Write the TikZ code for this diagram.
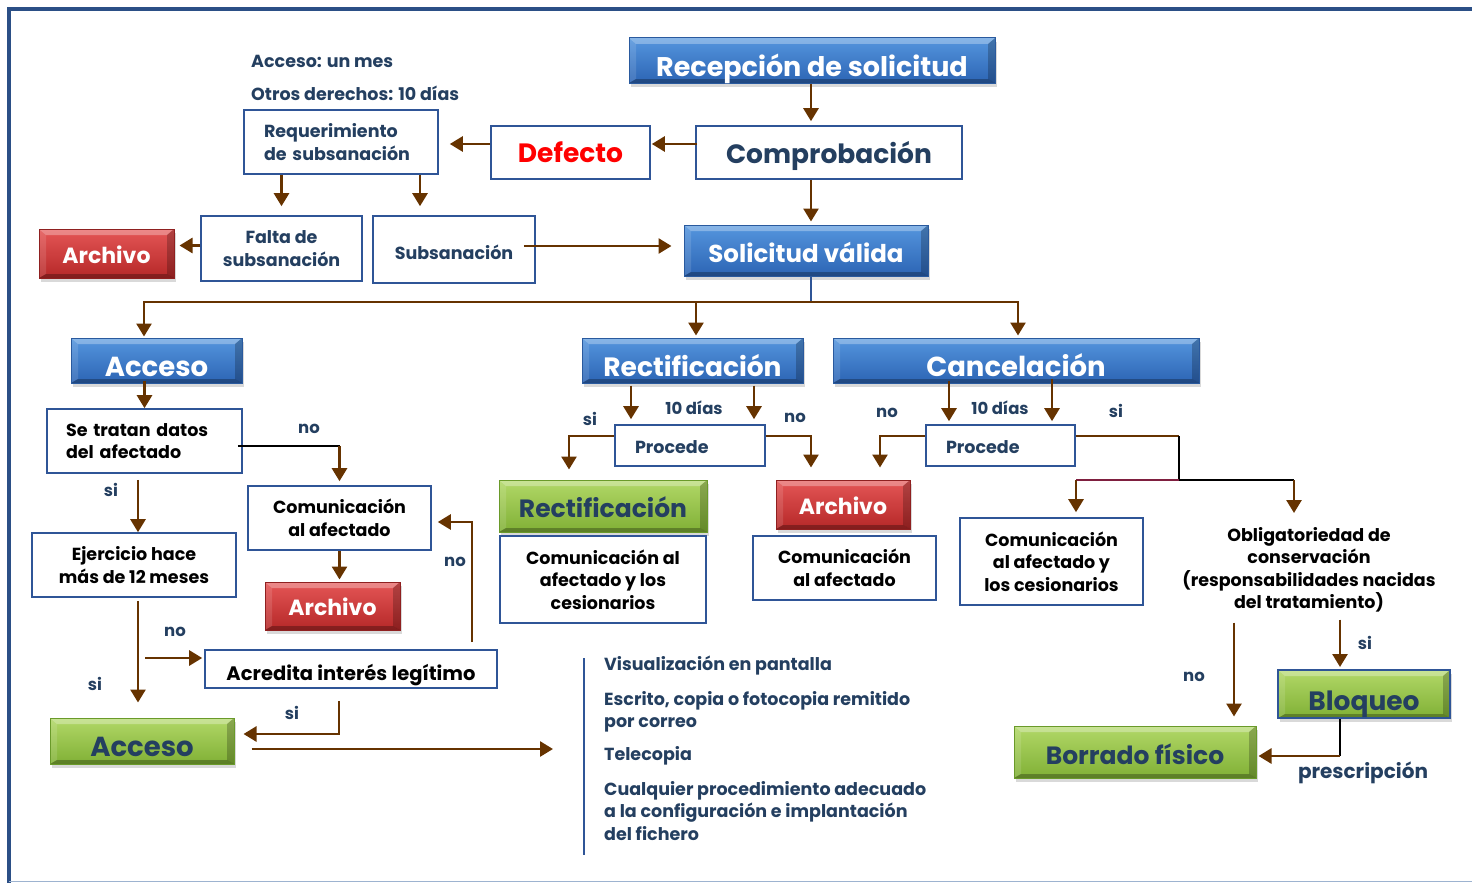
\documentclass[tikz,border=0pt]{standalone}
\usepackage{fontspec}
\setmainfont{Poppins}
\usetikzlibrary{arrows.meta,shadows,positioning,calc}
\definecolor{navyT}{HTML}{243F60}
\definecolor{navyB}{HTML}{2F5597}
\definecolor{brownA}{HTML}{663300}
\definecolor{maroonA}{HTML}{7F1F3F}
\definecolor{blueT}{HTML}{5596DE}
\definecolor{blueB}{HTML}{2C64B4}
\definecolor{blueD}{HTML}{2A5A9E}
\definecolor{greenT}{HTML}{B2D868}
\definecolor{greenB}{HTML}{80B035}
\definecolor{greenD}{HTML}{6A9A2A}
\definecolor{redT}{HTML}{E55656}
\definecolor{redB}{HTML}{B52828}
\definecolor{redD}{HTML}{8F2020}
\definecolor{frameC}{HTML}{2B4F86}
\definecolor{frameL}{HTML}{9DB3D0}
\newcommand\szT{\fontsize{26.5}{28}\selectfont}
\newcommand\szR{\fontsize{22}{24}\selectfont}
\newcommand\szS{\fontsize{17.5}{22.5}\selectfont}
\newcommand\szL{\fontsize{16.5}{18}\selectfont}
\newcommand\szSize[1]{\fontsize{#1}{#1}\selectfont}
\tikzset{
  tbase/.style={text height=#1, text depth=0pt},
  wbox/.style={draw=navyB, line width=1.6pt, fill=white, inner sep=0pt, align=center, font=\szS\bfseries},
  bevel/.style={path picture={
    \fill[white, opacity=0.30] (path picture bounding box.north west) -- (path picture bounding box.north east)
       -- ([xshift=-7pt,yshift=-6pt]path picture bounding box.north east) -- ([xshift=7pt,yshift=-6pt]path picture bounding box.north west) -- cycle;
    \fill[white, opacity=0.12] (path picture bounding box.north west) -- ([xshift=7pt,yshift=-6pt]path picture bounding box.north west)
       -- ([xshift=7pt,yshift=4pt]path picture bounding box.south west) -- (path picture bounding box.south west) -- cycle;
    \fill[black, opacity=0.22] (path picture bounding box.north east) -- ([xshift=-7pt,yshift=-6pt]path picture bounding box.north east)
       -- ([xshift=-7pt,yshift=4pt]path picture bounding box.south east) -- (path picture bounding box.south east) -- cycle;
    \fill[black, opacity=0.28] (path picture bounding box.south west) -- (path picture bounding box.south east)
       -- ([xshift=-7pt,yshift=4pt]path picture bounding box.south east) -- ([xshift=7pt,yshift=4pt]path picture bounding box.south west) -- cycle;
  }},
  shadedbox/.style={inner sep=0pt, align=center, line width=1pt, bevel,
    drop shadow={shadow xshift=2pt, shadow yshift=-4pt, opacity=0.3}},
  bluebox/.style={shadedbox, top color=blueT, bottom color=blueB, draw=blueD, text=white, font=\szT\bfseries},
  greenbox/.style={shadedbox, top color=greenT, bottom color=greenB, draw=greenD, text=navyT, font=\szSize{25}\bfseries},
  redbox/.style={shadedbox, top color=redT, bottom color=redB, draw=redD, text=white, font=\szR\bfseries},
  arr/.style={draw=brownA, line width=2.7pt, -{Triangle[length=13pt,width=15pt]}},
  bline/.style={draw=brownA, line width=2.7pt},
  kline/.style={draw=black, line width=2pt},
  lbl/.style={text=navyT, font=\szL\bfseries, inner sep=0pt},
  plain/.style={font=\szS\bfseries, inner sep=0pt, align=center}
}
\begin{document}
\begin{tikzpicture}[x=1pt,y=-1pt]
\useasboundingbox (0,0) rectangle (1472,883);
% frame
\draw[frameC, line width=4pt] (9,883) -- (9,9) -- (1472,9);
\draw[frameL, line width=1pt] (9,881) -- (1472,881);

% top area
\node[plain, text=navyT, anchor=west] (t1) at (251,61) {Acceso: un mes};
\node[plain, text=navyT, anchor=west] (t2) at (251,93) {Otros derechos: 10 días};
\node[bluebox, font=\szSize{27}\bfseries, tbase=33pt, minimum width=366pt, minimum height=45pt] (recep) at (812,60.5) {Recepción de solicitud};
\node[wbox, tbase=21pt, minimum width=266pt, minimum height=53pt, font=\szT\bfseries, text=navyT] (comp) at (829,152.5) {Comprobación};
\node[wbox, tbase=19pt, minimum width=159pt, minimum height=53pt, font=\szT\bfseries, text=red] (defecto) at (570.5,152.5) {Defecto};
\node[wbox, minimum width=194pt, minimum height=64pt, text=navyT, align=left, text width=154pt] (req) at (341,142) {Requerimiento\\de subsanación};
\node[wbox, minimum width=161pt, minimum height=65pt, text=navyT] (falta) at (281.5,248.5) {Falta de\\subsanación};
\node[wbox, tbase=19pt, minimum width=162pt, minimum height=67pt, text=navyT] (subs) at (454,249.5) {Subsanación};
\node[redbox, tbase=19pt, minimum width=135pt, minimum height=49pt] (arch1) at (106.5,253.5) {Archivo};
\node[bluebox, font=\szSize{24.5}\bfseries, tbase=23pt, minimum width=244pt, minimum height=51pt] (valida) at (806,250.5) {Solicitud válida};

% second level
\node[bluebox, font=\szSize{27.5}\bfseries, tbase=31pt, minimum width=171pt, minimum height=45pt] (accB) at (156.5,360.5) {Acceso};
\node[bluebox, tbase=31pt, minimum width=221pt, minimum height=45pt] (rectB) at (692.5,360.5) {Rectificación};
\node[bluebox, font=\szSize{27.5}\bfseries, tbase=31pt, minimum width=366pt, minimum height=45pt] (cancB) at (1016,360.5) {Cancelación};

% acceso branch
\node[wbox, minimum width=195pt, minimum height=64pt, align=left, text width=157pt] (tratan) at (144.5,441) {Se tratan datos\\del afectado};
\node[wbox, minimum width=183pt, minimum height=64pt] (comA) at (339.5,518) {Comunicación\\al afectado};
\node[redbox, tbase=19pt, minimum width=135pt, minimum height=48pt] (arch2) at (332.5,606) {Archivo};
\node[wbox, minimum width=204pt, minimum height=64pt] (ejer) at (134,565) {Ejercicio hace\\más de 12 meses};
\node[wbox, tbase=22pt, minimum width=292pt, minimum height=38pt, font=\szSize{19.5}\bfseries] (acred) at (351,669) {Acredita interés legítimo};
\node[greenbox, font=\szSize{27.5}\bfseries, tbase=30pt, minimum width=184pt, minimum height=46pt] (accG) at (142,741) {Acceso};

% list
\coordinate (ltop) at (584,658);
\coordinate (lbot) at (584,855);
\draw[navyB, line width=1.6pt] (ltop) -- (lbot);
\node[plain, text=navyT, anchor=west] (v1) at (604,666) {Visualización en pantalla};
\node[plain, text=navyT, anchor=north west, align=left] (v2) at (604,691) {Escrito, copia o fotocopia remitido\\por correo};
\node[plain, text=navyT, anchor=west] (v3) at (604,756) {Telecopia};
\node[plain, text=navyT, anchor=north west, align=left] (v4) at (604,781) {Cualquier procedimiento adecuado\\a la configuración e implantación\\del fichero};

% rectificacion branch
\node[wbox, tbase=15pt, minimum width=150pt, minimum height=41pt, text=navyT, align=left, text width=110pt] (proc1) at (690,445.5) {Procede};
\node[greenbox, tbase=22pt, minimum width=208pt, minimum height=52pt] (rectG) at (603,506) {Rectificación};
\node[wbox, minimum width=206pt, minimum height=87pt] (comRC) at (603,579.5) {Comunicación al\\afectado y los\\cesionarios};
\node[redbox, tbase=19pt, minimum width=134pt, minimum height=49pt] (arch3) at (843,504.5) {Archivo};
\node[wbox, minimum width=183pt, minimum height=64pt] (comA2) at (844.5,568) {Comunicación\\al afectado};

% cancelacion branch
\node[wbox, tbase=15pt, minimum width=149pt, minimum height=41pt, text=navyT, align=left, text width=109pt] (proc2) at (1000.5,445.5) {Procede};
\node[wbox, minimum width=183pt, minimum height=87pt] (comC) at (1051.5,561.5) {Comunicación\\al afectado y\\los cesionarios};
\node[plain, anchor=north] (oblig) at (1309,527) {Obligatoriedad de\\conservación\\(responsabilidades nacidas\\del tratamiento)};
\node[greenbox, font=\szSize{26.5}\bfseries, tbase=32pt, draw=navyB, line width=2pt, minimum width=172pt, minimum height=48pt] (bloq) at (1364,694) {Bloqueo};
\node[greenbox, tbase=24pt, minimum width=242pt, minimum height=52pt] (borr) at (1135,752) {Borrado físico};

% column coordinates
\coordinate (c811) at (811,0);
\coordinate (hub) at (811,302);
\coordinate (c138) at (138,0);
\coordinate (c339) at (339,0);
\coordinate (c472) at (472,0);
\coordinate (c420) at (420,0);
\coordinate (c631) at (631,0);
\coordinate (c754) at (754,0);
\coordinate (c569) at (569,0);
\coordinate (c811b) at (811,0);
\coordinate (c949) at (949,0);
\coordinate (c1052) at (1052,0);
\coordinate (c880) at (880,0);
\coordinate (split) at (1179,480);
\coordinate (c1076) at (1076,480);
\coordinate (c1294) at (1294,480);
\coordinate (c1234) at (1234,0);
\coordinate (c1340) at (1340,0);
\coordinate (c145) at (145,658);
\coordinate (listin) at (553,749);

% top connectors
\draw[arr, shorten >=4pt] (c811 |- recep.south) -- (c811 |- comp.north);
\draw[arr, shorten <=-2pt, shorten >=1pt] ([yshift=8.5pt]comp.west) -- ([yshift=8.5pt]comp.west -| defecto.east);
\draw[arr, shorten >=11pt] ([yshift=8.5pt]defecto.west) -- ([yshift=8.5pt]defecto.west -| req.east);
\draw[arr, shorten >=9pt] (req.south -| falta.north) -- (falta.north);
\draw[arr, shorten >=9pt] (c420 |- req.south) -- (c420 |- subs.north);
\draw[arr, shorten >=5pt] ([yshift=3pt]falta.west) -- ([yshift=3pt]falta.west -| arch1.east);
\draw[arr, shorten <=-12pt, shorten >=12pt] ([yshift=3.5pt]subs.east) -- ([yshift=3.5pt]subs.east -| valida.west);
\draw[arr, shorten >=3pt] (c811 |- comp.south) -- (c811 |- valida.north);
\draw[navyB, line width=1.6pt] (c811 |- valida.south) -- (hub);
\draw[arr, shorten >=1pt] (hub) -| ([xshift=-12.5pt]accB.north);
\draw[arr, shorten >=2pt] (hub) -| ([xshift=2pt]cancB.north);
\draw[arr, shorten >=2pt] ([xshift=3.5pt]hub -| rectB.north) -- ([xshift=3.5pt]rectB.north);

% acceso connectors
\draw[arr, shorten <=-3pt, shorten >=0pt] (tratan.north |- accB.south) -- (tratan.north);
\draw[kline] ([xshift=-5pt,yshift=-5pt]tratan.east) -- ([yshift=-5pt]tratan.east -| comA.north);
\draw[arr, shorten >=4pt] ([yshift=-5pt]tratan.east -| comA.north) -- (comA.north);
\draw[arr, shorten <=6pt] (c138 |- tratan.south) -- (c138 |- ejer.north);
\draw[arr, shorten <=3pt, shorten >=15pt] (c138 |- ejer.south) -- (c138 |- accG.north);
\draw[arr, shorten >=2pt] (c145) -- (c145 -| acred.west);
\draw[arr, shorten <=7pt, shorten >=6pt] (c472 |- acred.north) |- ([yshift=-4pt]comA.east);
\draw[arr, shorten <=12pt, shorten >=9pt] (c339 |- acred.south) |- ([yshift=7pt]accG.east);
\draw[arr, shorten >=2pt] (comA.south) -- (comA.south |- arch2.north);
\draw[arr, shorten <=17pt] ([yshift=-8pt]accG.east) -- (listin);

% rectificacion connectors
\draw[arr, shorten <=2pt, shorten >=5pt] (c631 |- rectB.south) -- (c631 |- proc1.north);
\draw[arr, shorten <=2pt, shorten >=5pt] (c754 |- rectB.south) -- (c754 |- proc1.north);
\draw[arr, shorten >=10pt] ([yshift=9.5pt]proc1.west) -| (c569 |- rectG.north);
\draw[arr, shorten >=12pt] ([yshift=9.5pt]proc1.east) -| (c811b |- arch3.north);

% cancelacion connectors
\draw[arr, shorten <=-3pt, shorten >=3pt] (c949 |- cancB.south) -- (c949 |- proc2.north);
\draw[arr, shorten <=-5pt, shorten >=3pt] (c1052 |- cancB.south) -- (c1052 |- proc2.north);
\draw[arr, shorten >=12pt] ([yshift=9.5pt]proc2.west) -| (c880 |- arch3.north);
\draw[bline, line width=2pt] ([yshift=9.5pt]proc2.east) -- ([yshift=9.5pt]proc2.east -| split);
\draw[kline] ([yshift=9.5pt]proc2.east -| split) -- (split);
\draw[maroonA, line width=2pt] (split) -- (c1076);
\draw[kline] (split) -- (c1294);
\draw[arr, shorten >=5pt] (c1076) -- (c1076 |- comC.north);
\draw[arr, shorten >=14pt] (c1294) -- (c1294 |- oblig.north);
\draw[arr, shorten <=10pt, shorten >=9pt] (c1234 |- oblig.south) -- (c1234 |- borr.north);
\draw[arr, shorten <=7pt, shorten >=2pt] (c1340 |- oblig.south) -- (c1340 |- bloq.north);
\draw[kline] (c1340 |- bloq.south) -- ([yshift=-4pt]c1340 |- borr.east);
\draw[arr, shorten >=2pt] ([yshift=-4pt]c1340 |- borr.east) -- ([yshift=-4pt]borr.east);

% labels
\node[lbl] (l1) at (309,429) {no};
\node[lbl] (l2) at (111,490) {si};
\node[lbl] (l3) at (455,562) {no};
\node[lbl] (l4) at (175,632) {no};
\node[lbl] (l5) at (95,684) {si};
\node[lbl] (l6) at (292,713) {si};
\node[lbl] (l7) at (590,419) {si};
\node[lbl] (l8) at (694,408) {10 días};
\node[lbl] (l9) at (795,418) {no};
\node[lbl] (l10) at (887,413) {no};
\node[lbl] (l11) at (1000,408) {10 días};
\node[lbl] (l12) at (1116,411) {si};
\node[lbl] (l13) at (1194,677) {no};
\node[lbl] (l14) at (1365,643) {si};
\node[lbl, font=\szSize{20}\bfseries] (l15) at (1363,773) {prescripción};
\end{tikzpicture}
\end{document}
